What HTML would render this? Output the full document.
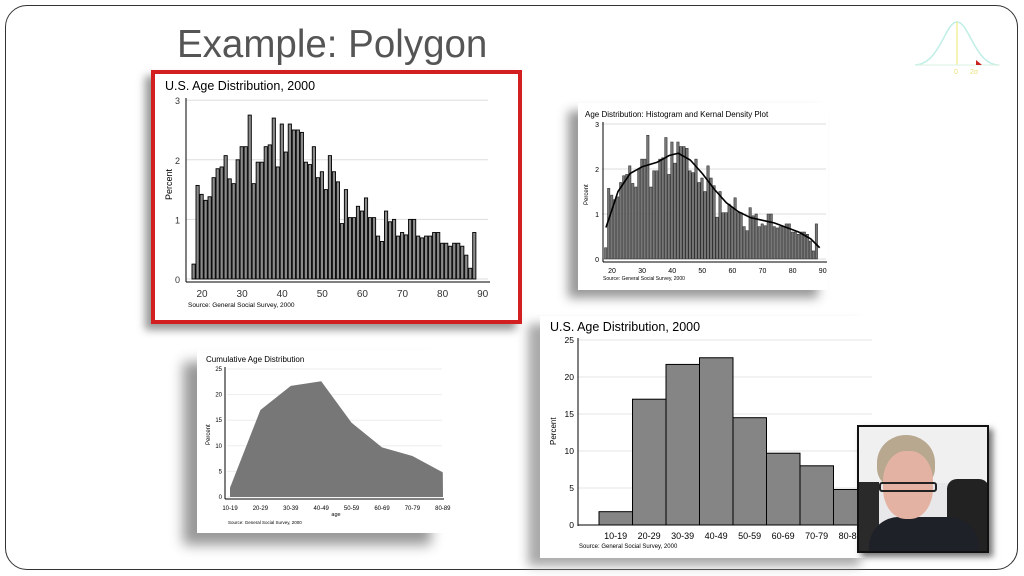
<!DOCTYPE html>
<html><head><meta charset="utf-8"><style>
body{margin:0;width:1024px;height:576px;background:#fff;overflow:hidden;font-family:"Liberation Sans",sans-serif;position:relative}
.card{position:absolute;background:#fff}
svg{position:absolute;left:0;top:0}
</style></head><body>
<div style="position:absolute;left:5px;top:5px;width:1011px;height:563px;border:1.5px solid #333;border-radius:22px"></div>
<div style="position:absolute;left:177px;top:23px;font-size:38.5px;color:#555">Example: Polygon</div>
<div class="card" style="left:578px;top:103px;width:250px;height:187px;box-shadow:-10px 8px 10px #999"></div>
<div class="card" style="left:197px;top:350px;width:248px;height:183px;box-shadow:-14px 12px 12px #999"></div>
<div class="card" style="left:540px;top:316px;width:332px;height:242px;box-shadow:-12px 8px 10px #aaa"></div>
<div class="card" style="left:151px;top:70px;width:363px;height:246px;border:4px solid #d21f1f;box-shadow:-6px 6px 8px #999"></div>
<svg width="1024" height="576" id="s" font-family="Liberation Sans, sans-serif"></svg>
<script>
var s=document.getElementById('s'),h='';
function t(x,y,str,sz,extra){h+='<text x="'+x+'" y="'+y+'" font-size="'+sz+'" '+(extra||'')+'>'+str+'</text>';}
var d=[0.25,1.57,1.42,1.32,1.38,1.7,1.85,1.88,2.07,1.68,1.6,2.0,2.22,2.22,2.75,1.6,1.96,1.96,2.22,2.25,2.7,1.88,2.6,2.13,2.6,2.5,2.5,2.46,1.96,1.92,2.22,1.7,1.8,1.5,2.07,1.8,1.63,0.93,1.5,1.03,1.03,1.22,1.14,1.36,1.03,1.03,0.72,0.63,1.14,0.96,1.0,0.72,0.78,0.74,1.0,1.0,0.72,0.69,0.72,0.72,0.78,0.78,0.6,0.6,0.55,0.6,0.6,0.55,0.4,0.18,0.78];
(function(){var y0=279,u=59.6,x20=202,px=4.01;
for(var i=0;i<=3;i++){var y=y0-i*u;h+='<line x1="186" x2="488" y1="'+y+'" y2="'+y+'" stroke="#ddd"/>';t(180,y+4,i,9,'text-anchor="end" fill="#333"');}
h+='<line x1="186" x2="186" y1="98" y2="282" stroke="#000"/><line x1="186" x2="490" y1="282" y2="282" stroke="#000"/>';
d.forEach(function(v,k){var a=18+k,x=x20+(a-20)*px-2;h+='<rect x="'+x+'" y="'+(y0-v*u)+'" width="'+(px-0.8)+'" height="'+(v*u)+'" fill="#8a8a8a" stroke="#000" stroke-width="0.9"/>';});
for(var a=20;a<=90;a+=10)t(x20+(a-20)*px,297,a,10,'text-anchor="middle" fill="#333"');
t(165,90,'U.S. Age Distribution, 2000',12.5);t(0,0,'Percent',9,'transform="translate(172,200) rotate(-90)"');
t(188,307,'Source: General Social Survey, 2000',6.5);})();
(function(){var y0=259,u=45,x20=612,px=3.01;
for(var i=0;i<=3;i++){var y=y0-i*u;h+='<line x1="602" x2="826" y1="'+y+'" y2="'+y+'" stroke="#ddd"/>';t(599,y+3,i,7,'text-anchor="end"');}
h+='<line x1="603" x2="603" y1="122" y2="262" stroke="#000"/><line x1="603" x2="827" y1="262" y2="262" stroke="#000"/>';
d.forEach(function(v,k){var a=18+k,x=x20+(a-20)*px-1.5;h+='<rect x="'+x+'" y="'+(y0-v*u)+'" width="'+(px-0.6)+'" height="'+(v*u)+'" fill="#777" stroke="#222" stroke-width="0.5"/>';});
var kd=[[18,0.7],[22,1.5],[26,1.9],[30,2.05],[35,2.15],[39,2.3],[42,2.35],[46,2.2],[50,1.9],[54,1.55],[58,1.25],[62,1.05],[66,0.92],[70,0.86],[74,0.8],[78,0.7],[82,0.6],[86,0.45],[89,0.25]];
h+='<polyline fill="none" stroke="#000" stroke-width="1.6" points="'+kd.map(function(p){return (x20+(p[0]-20)*px)+','+(y0-p[1]*u)}).join(' ')+'"/>';
for(var a=20;a<=90;a+=10)t(x20+(a-20)*px,273,a,7,'text-anchor="middle"');
t(585,117,'Age Distribution: Histogram and Kernal Density Plot',8);t(0,0,'Percent',6,'transform="translate(588,205) rotate(-90)"');
t(603,280,'Source: General Social Survey, 2000',5);})();
(function(){var y0=497,u=5.12,vals=[1.8,17,21.7,22.6,14.5,9.7,8,4.8],labs=['10-19','20-29','30-39','40-49','50-59','60-69','70-79','80-89'],pts=[];
for(var i=0;i<=25;i+=5){var y=y0-i*u;h+='<line x1="227" x2="442" y1="'+y+'" y2="'+y+'" stroke="#eee"/>';t(222,y+2,i,6,'text-anchor="end"');}
vals.forEach(function(v,k){pts.push((230+k*30.4)+','+(y0-v*u));});
h+='<polygon fill="#777" points="230,'+y0+' '+pts.join(' ')+' 443,'+y0+'"/>';
h+='<line x1="225" x2="225" y1="367" y2="499" stroke="#000"/><line x1="225" x2="444" y1="499" y2="499" stroke="#000"/>';
labs.forEach(function(l,k){t(230+k*30.4,510,l,6,'text-anchor="middle"');});
t(336,516,'age',5.5,'text-anchor="middle"');
t(206,362,'Cumulative Age Distribution',8);t(0,0,'Percent',6,'transform="translate(210,445) rotate(-90)"');
t(228,524,'Source: General Social Survey, 2000',4.5);})();
(function(){var y0=525,u=7.4,vals=[1.8,17,21.7,22.6,14.5,9.7,8,4.8],labs=['10-19','20-29','30-39','40-49','50-59','60-69','70-79','80-89'];
for(var i=0;i<=25;i+=5){var y=y0-i*u;h+='<line x1="578" x2="872" y1="'+y+'" y2="'+y+'" stroke="#e4e4e4"/>';t(574,y+3,i,8.5,'text-anchor="end"');}
h+='<line x1="578" x2="578" y1="338" y2="526" stroke="#000"/><line x1="578" x2="872" y1="525" y2="525" stroke="#000"/>';
vals.forEach(function(v,k){var x=599+k*33.5;h+='<rect x="'+x+'" y="'+(y0-v*u)+'" width="33.5" height="'+(v*u)+'" fill="#858585" stroke="#000" stroke-width="1"/>';t(x+16.7,539,labs[k],9,'text-anchor="middle"');});
t(550,331,'U.S. Age Distribution, 2000',12.5);t(0,0,'Percent',8,'transform="translate(556,445) rotate(-90)"');
t(579,548,'Source: General Social Survey, 2000',6);})();
h+='<path d="M915,65 C940,64 945,22 957,22 C969,22 975,64 998,65" fill="none" stroke="#bfeee6" stroke-width="1.5"/><line x1="957" y1="22" x2="957" y2="65" stroke="#f3f09a" stroke-width="1.5"/><line x1="915" y1="65" x2="1000" y2="65" stroke="#d8f2e0"/><polygon points="976,60 982,65 976,65" fill="#c22"/>';
t(954,74,'0',7,'fill="#e8e07a"');t(970,74,'2σ',7,'fill="#e8e07a"');
s.innerHTML=h;
</script>
<div style="position:absolute;left:857px;top:425px;width:128px;height:124px;border:2px solid #111;background:#e8e8ea;overflow:hidden;box-shadow:4px 4px 6px #777">
<div style="position:absolute;left:0;top:0;width:128px;height:56px;background:#f0f0f0"></div>
<div style="position:absolute;left:88px;top:52px;width:42px;height:80px;background:#222;border-radius:10px"></div>
<div style="position:absolute;left:0;top:55px;width:20px;height:80px;background:#2a2a2a"></div>
<div style="position:absolute;left:10px;top:90px;width:110px;height:50px;background:#1e2128;border-radius:30px 30px 0 0"></div>
<div style="position:absolute;left:18px;top:8px;width:58px;height:55px;background:#b8a890;border-radius:50% 50% 40% 40%"></div>
<div style="position:absolute;left:24px;top:24px;width:50px;height:68px;background:#e3b2a2;border-radius:45%"></div>
<div style="position:absolute;left:20px;top:55px;width:58px;height:10px;border:2px solid #222;border-radius:3px;box-sizing:border-box"></div>
</div>
</body></html>
